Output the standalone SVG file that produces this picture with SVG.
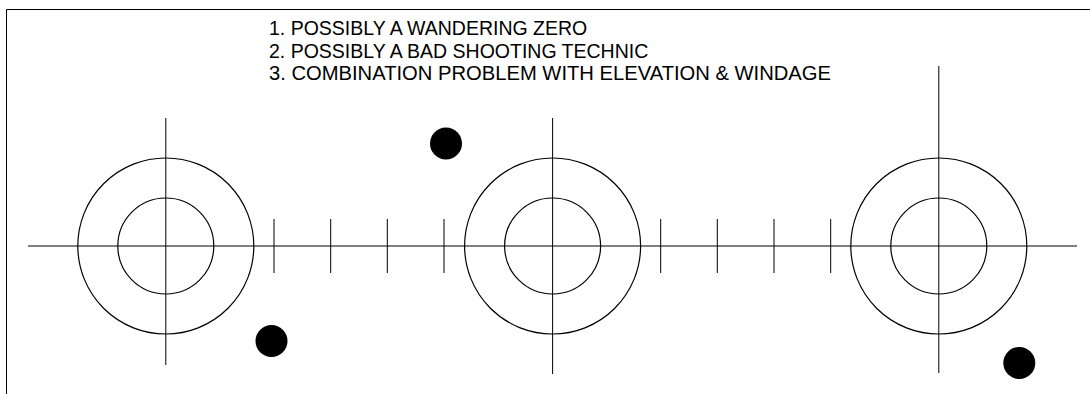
<svg xmlns="http://www.w3.org/2000/svg" width="1090" height="394" viewBox="0 0 1090 394">
<style>
.ln{stroke:#000;stroke-width:1;fill:none}
.ring{stroke:#000;stroke-width:1.2;fill:none}
.dot{fill:#000}
.t{font-family:"Liberation Sans",Arial,sans-serif;font-size:19.5px;fill:#000}
</style>
<rect width="1090" height="394" fill="#fff"/>
<g id="frame">
<polyline class="ln" points="6.5,394 6.5,9.5 1090,9.5"/>
</g>
<g id="notes">
<text class="t" x="269" y="35">1. POSSIBLY A WANDERING ZERO</text>
<text class="t" x="269" y="57.5">2. POSSIBLY A BAD SHOOTING TECHNIC</text>
<text class="t" x="269" y="80" textLength="562" lengthAdjust="spacingAndGlyphs">3. COMBINATION PROBLEM WITH ELEVATION &amp; WINDAGE</text>
</g>
<g id="connectors">
<line class="ln" x1="28" y1="246" x2="1077" y2="246"/>
<line class="ln" x1="274" y1="219" x2="274" y2="273"/>
<line class="ln" x1="330.7" y1="219" x2="330.7" y2="273"/>
<line class="ln" x1="387.3" y1="219" x2="387.3" y2="273"/>
<line class="ln" x1="444" y1="219" x2="444" y2="273"/>
<line class="ln" x1="660.7" y1="219" x2="660.7" y2="273"/>
<line class="ln" x1="717.3" y1="219" x2="717.3" y2="273"/>
<line class="ln" x1="774" y1="219" x2="774" y2="273"/>
<line class="ln" x1="830.7" y1="219" x2="830.7" y2="273"/>
</g>
<g id="target1">
<circle class="ring" cx="165.8" cy="246" r="88"/>
<circle class="ring" cx="165.8" cy="246" r="48"/>
<line class="ln" x1="165.8" y1="118" x2="165.8" y2="365"/>
</g>
<g id="target2">
<circle class="ring" cx="552.6" cy="246" r="88"/>
<circle class="ring" cx="552.6" cy="246" r="48"/>
<line class="ln" x1="552.6" y1="118" x2="552.6" y2="374"/>
</g>
<g id="target3">
<circle class="ring" cx="938.8" cy="246" r="88"/>
<circle class="ring" cx="938.8" cy="246" r="48"/>
<line class="ln" x1="938.8" y1="66" x2="938.8" y2="373"/>
</g>
<g id="shot1"><circle class="dot" cx="271.5" cy="341" r="16"/></g>
<g id="shot2"><circle class="dot" cx="446" cy="143.5" r="16"/></g>
<g id="shot3"><circle class="dot" cx="1019.3" cy="363" r="16"/></g>
</svg>
